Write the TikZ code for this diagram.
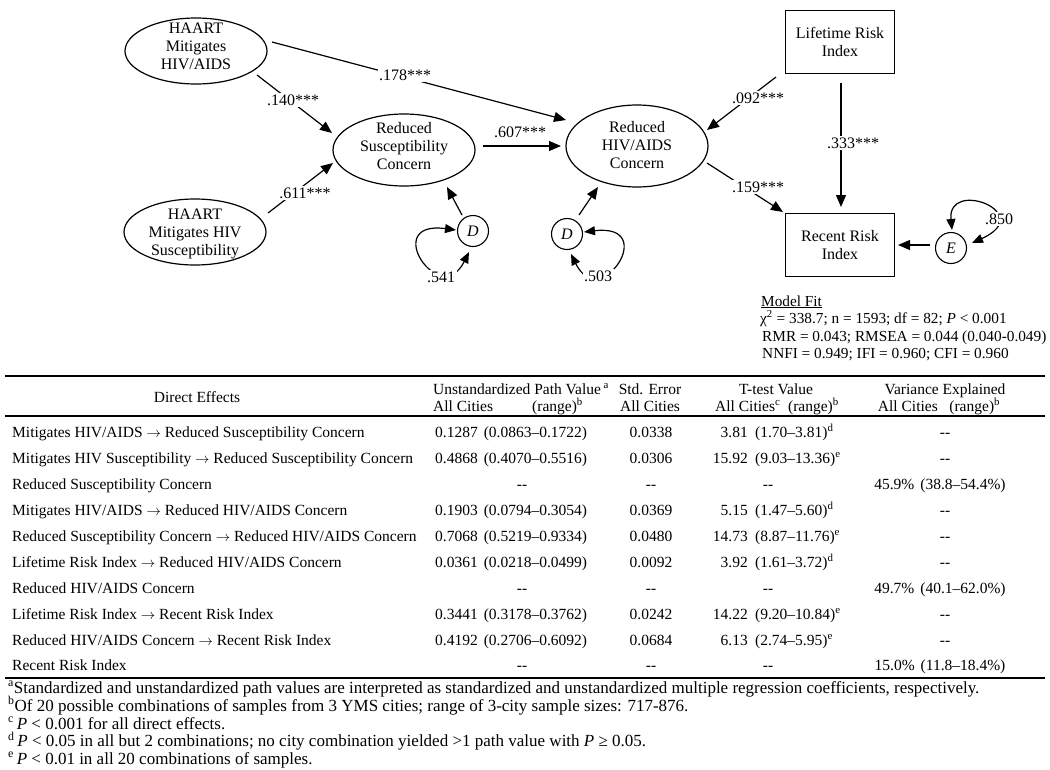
\documentclass[tikz,border=0pt]{standalone}
\usepackage{fontspec}
\setmainfont{Liberation Serif}
\usetikzlibrary{arrows.meta,shapes.geometric}
\newcommand{\tabrow}[8]{%
  \node[tb] (r#1a) at (12,#2) {#3};
  \node[tb] (r#1b) at (435,#2) {#4};
  \node[tc] (r#1c) at (651,#2) {#5};
  \node[anchor=base east,tfont] (r#1d) at (748,#2) {#6};
  \node[tb] (r#1e) at (755,#2) {#7};
  \node[tc] (r#1f) at (945,#2) {#8};
}
\newcommand{\varrow}[4]{%
  \node[tb] (r#1a) at (12,#2) {#3};
  \node[tc] (r#1b) at (522,#2) {-{}-};
  \node[tc] (r#1c) at (651,#2) {-{}-};
  \node[tc] (r#1d) at (768,#2) {-{}-};
  \node[tc] (r#1f) at (940,#2) {#4};
}
\begin{document}
\begin{tikzpicture}[x=1pt,y=-1pt,
  every node/.style={inner sep=0pt},
  dfont/.style={font=\fontsize{16}{18}\selectfont},
  tfont/.style={font=\fontsize{15.5}{18}\selectfont},
  ffont/.style={font=\fontsize{17}{18}\selectfont},
  lat/.style={ellipse, draw, line width=1.2pt, minimum width=142pt, minimum height=66pt},
  obs/.style={rectangle, draw, line width=1.2pt, minimum width=109pt, minimum height=63pt, align=center, dfont},
  err/.style={circle, draw, line width=1.1pt, minimum size=31pt, dfont},
  lbl/.style={align=center, dfont},
  path/.style={line width=1.2pt, -{Triangle[length=12pt,width=10pt]}},
  cov/.style={line width=1.2pt, {Triangle[length=11pt,width=9pt]}-{Triangle[length=11pt,width=9pt]}},
  coef/.style={fill=white, inner sep=1.5pt, dfont},
  tb/.style={anchor=base west, tfont},
  tc/.style={anchor=base, tfont},
  fn/.style={anchor=base west, ffont},
  mf/.style={anchor=base west, font=\fontsize{15.3}{18}\selectfont},
  rule/.style={line width=1.3pt}
]
\path[use as bounding box, fill=white] (0,0) rectangle (1050,769);

% ---- diagram nodes
\node[lat] (h1) at (196,51) {};
\node[lbl] (h1t) at (196,46) {HAART\\Mitigates\\HIV/AIDS};
\node[lat] (h2) at (195,232) {};
\node[lbl] (h2t) at (195,234) {HAART\\Mitigates HIV\\Susceptibility};
\node[lat, minimum height=72pt] (rsc) at (404,150) {};
\node[lbl] (rsct) at (404,146) {Reduced\\Susceptibility\\Concern};
\node[lat, minimum height=82pt] (rhac) at (637,146) {};
\node[lbl] (rhact) at (637,145) {Reduced\\HIV/AIDS\\Concern};
\node[obs] (life) at (840,42) {Lifetime Risk\\Index};
\node[obs] (rec) at (840,245) {Recent Risk\\Index};
\node[err] (d1) at (473,231) {\textit{D}};
\node[err] (d2) at (567,234) {\textit{D}};
\node[err] (e) at (951,248) {\textit{E}};

% ---- paths
\draw[path] ([shift={(61,24)}]h1.center) -- ([shift={(-72,-17)}]rsc.center);
\draw[path] ([shift={(73,-19)}]h2.center) -- ([shift={(-71,13)}]rsc.center);
\draw[path] ([shift={(76,-9)}]h1.center) -- ([shift={(-71,-26)}]rhac.center);
\draw[path] ([shift={(79,-4)}]rsc.center) -- ([shift={(-76,0)}]rhac.center);
\draw[path] ([shift={(-11,-16)}]d1.center) -- ([shift={(43,37)}]rsc.center);
\draw[path] ([shift={(12,-19)}]d2.center) -- ([shift={(-39,41)}]rhac.center);
\draw[path] ([shift={(-64,35)}]life.center) -- ([shift={(70,-16)}]rhac.center);
\draw[path] ([shift={(1,41)}]life.center) -- ([shift={(1,-38)}]rec.center);
\draw[path] ([shift={(70,17)}]rhac.center) -- ([shift={(-57,-33)}]rec.center);
\draw[path] ([shift={(-21,-3)}]e.center) -- ([shift={(58,0)}]rec.center);

% ---- variances
\draw[cov] ([shift={(-17,-1)}]d1.center) .. controls (380,220) and (440,310) .. ([shift={(-4,21)}]d1.center);
\draw[cov] ([shift={(17,-2)}]d2.center) .. controls (660,223) and (600,313) .. ([shift={(4,20)}]d2.center);
\draw[cov] ([shift={(1,-18)}]e.center) .. controls (947,178) and (1038,213) .. ([shift={(21,-5)}]e.center);

% ---- coefficients
\node[coef] (c140) at (293,100) {.140***};
\node[coef] (c611) at (305,193) {.611***};
\node[coef] (c178) at (405,75) {.178***};
\node[coef] (c607) at (520,132) {.607***};
\node[coef] (c092) at (758,98) {.092***};
\node[coef] (c333) at (853,143) {.333***};
\node[coef] (c159) at (758,187) {.159***};
\node[coef] (c541) at (441,277) {.541};
\node[coef] (c503) at (598,276) {.503};
\node[coef] (c850) at (999,219) {.850};

% ---- model fit
\node[mf] (mf0) at (761,306) {\underline{Model Fit}};
\node[mf] (mf1) at (760,323) {χ\textsuperscript{2} = 338.7; n = 1593; df = 82; \textit{P} < 0.001};
\node[mf] (mf2) at (762,341) {RMR = 0.043; RMSEA = 0.044 (0.040-0.049)};
\node[mf] (mf3) at (762,358) {NNFI = 0.949; IFI = 0.960; CFI = 0.960};

% ---- table
\draw[rule] (5,376) -- (1045,376);
\node[tc] (hd1) at (197,402) {Direct Effects};
\node[tc] (hd2a) at (521,394) {Unstandardized Path Value\,\textsuperscript{a}};
\node[tb] (hd2b) at (433,411) {All Cities};
\node[tb] (hd2c) at (532,411) {(range)\textsuperscript{b}};
\node[tc] (hd3a) at (650,394) {Std. Error};
\node[tc] (hd3b) at (650,411) {All Cities};
\node[tc] (hd4a) at (776,394) {T-test Value};
\node[tc] (hd4b) at (777,411) {All Cities\textsuperscript{c}\ \ (range)\textsuperscript{b}};
\node[tc] (hd5a) at (945,394) {Variance Explained};
\node[tc] (hd5b) at (939,411) {All Cities\ \ \ (range)\textsuperscript{b}};
\draw[rule] (5,416) -- (1045,416);

\tabrow{1}{437}{Mitigates HIV/AIDS $\rightarrow$ Reduced Susceptibility Concern}{0.1287\hspace{6pt}(0.0863–0.1722)}{0.0338}{3.81}{(1.70–3.81)\textsuperscript{d}}{-{}-}
\tabrow{2}{463}{Mitigates HIV Susceptibility $\rightarrow$ Reduced Susceptibility Concern}{0.4868\hspace{6pt}(0.4070–0.5516)}{0.0306}{15.92}{(9.03–13.36)\textsuperscript{e}}{-{}-}
\varrow{3}{489}{Reduced Susceptibility Concern}{45.9\%\hspace{6pt}(38.8–54.4\%)}
\tabrow{4}{515}{Mitigates HIV/AIDS $\rightarrow$ Reduced HIV/AIDS Concern}{0.1903\hspace{6pt}(0.0794–0.3054)}{0.0369}{5.15}{(1.47–5.60)\textsuperscript{d}}{-{}-}
\tabrow{5}{541}{Reduced Susceptibility Concern $\rightarrow$ Reduced HIV/AIDS Concern}{0.7068\hspace{6pt}(0.5219–0.9334)}{0.0480}{14.73}{(8.87–11.76)\textsuperscript{e}}{-{}-}
\tabrow{6}{567}{Lifetime Risk Index $\rightarrow$ Reduced HIV/AIDS Concern}{0.0361\hspace{6pt}(0.0218–0.0499)}{0.0092}{3.92}{(1.61–3.72)\textsuperscript{d}}{-{}-}
\varrow{7}{593}{Reduced HIV/AIDS Concern}{49.7\%\hspace{6pt}(40.1–62.0\%)}
\tabrow{8}{619}{Lifetime Risk Index $\rightarrow$ Recent Risk Index}{0.3441\hspace{6pt}(0.3178–0.3762)}{0.0242}{14.22}{(9.20–10.84)\textsuperscript{e}}{-{}-}
\tabrow{9}{645}{Reduced HIV/AIDS Concern $\rightarrow$ Recent Risk Index}{0.4192\hspace{6pt}(0.2706–0.6092)}{0.0684}{6.13}{(2.74–5.95)\textsuperscript{e}}{-{}-}
\varrow{10}{670}{Recent Risk Index}{15.0\%\hspace{6pt}(11.8–18.4\%)}
\draw[rule] (5,678) -- (1045,678);

% ---- footnotes
\node[fn] (fa) at (8,693) {\textsuperscript{a}Standardized and unstandardized path values are interpreted as standardized and unstandardized multiple regression coefficients, respectively.};
\node[fn] (fb) at (8,711) {\textsuperscript{b}Of 20 possible combinations of samples from 3 YMS cities; range of 3-city sample sizes: 717-876.};
\node[fn] (fc) at (8,729) {\textsuperscript{c}\,\textit{P} < 0.001 for all direct effects.};
\node[fn] (fd) at (8,746.5) {\textsuperscript{d}\,\textit{P} < 0.05 in all but 2 combinations; no city combination yielded >1 path value with \textit{P} ≥ 0.05.};
\node[fn] (fe) at (8,764) {\textsuperscript{e}\,\textit{P} < 0.01 in all 20 combinations of samples.};
\end{tikzpicture}
\end{document}
